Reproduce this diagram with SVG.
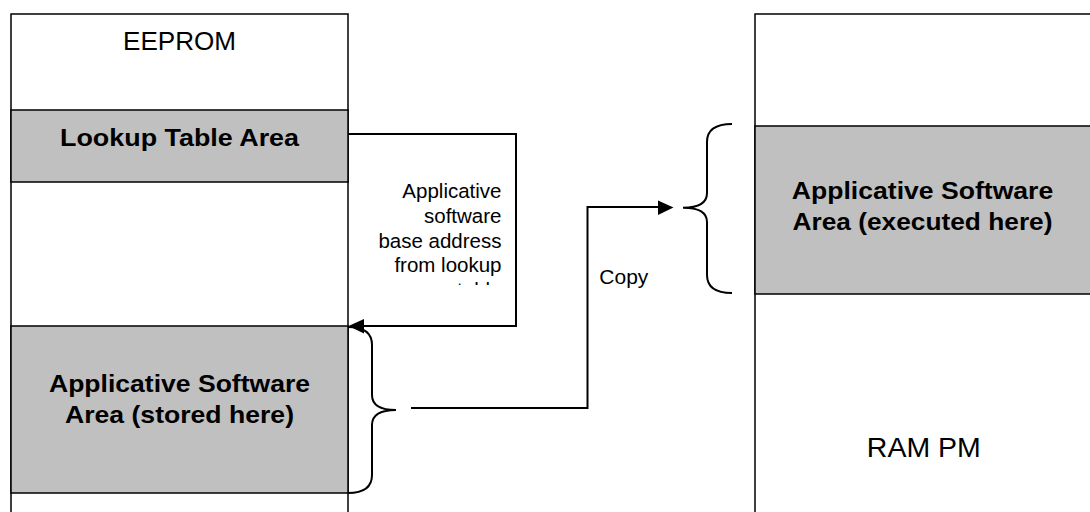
<svg xmlns="http://www.w3.org/2000/svg" width="1090" height="512" viewBox="0 0 1090 512">
<style>
.box{fill:#fff;stroke:#000;stroke-width:1.5}
.area{fill:#c0c0c0;stroke:#000;stroke-width:1.5}
.t{font-family:"Liberation Sans",Arial,sans-serif;fill:#000}
.b{font-weight:bold}
.ln{fill:none;stroke:#000;stroke-width:2}
.n{font-size:20.5px;text-anchor:end}
</style>
<defs>
<clipPath id="clipNote"><rect x="360" y="170" width="150" height="115"/></clipPath>
</defs>
<g id="eeprom">
<rect class="box" x="11" y="14" width="337" height="510"/>
<text class="t" x="179.5" y="49.5" font-size="25" text-anchor="middle" textLength="113" lengthAdjust="spacingAndGlyphs">EEPROM</text>
</g>
<g id="lookup">
<rect class="area" x="11" y="110" width="337" height="72"/>
<text class="t b" x="179.5" y="145.7" font-size="24.5" text-anchor="middle" textLength="239" lengthAdjust="spacingAndGlyphs">Lookup Table Area</text>
</g>
<g id="stored">
<rect class="area" x="11" y="326" width="337" height="167"/>
<text class="t b" x="179.5" y="391.7" font-size="24.5" text-anchor="middle" textLength="261" lengthAdjust="spacingAndGlyphs">Applicative Software</text>
<text class="t b" x="179.5" y="423.3" font-size="24.5" text-anchor="middle" textLength="229" lengthAdjust="spacingAndGlyphs">Area (stored here)</text>
</g>
<g id="rampm">
<rect class="box" x="755" y="14" width="337" height="510"/>
<text class="t" x="923.8" y="456.7" font-size="28" text-anchor="middle" textLength="114" lengthAdjust="spacingAndGlyphs">RAM PM</text>
</g>
<g id="executed">
<rect class="area" x="755" y="126" width="337" height="168"/>
<text class="t b" x="922.5" y="199.3" font-size="24.5" text-anchor="middle" textLength="261.5" lengthAdjust="spacingAndGlyphs">Applicative Software</text>
<text class="t b" x="922.5" y="230" font-size="24.5" text-anchor="middle" textLength="260" lengthAdjust="spacingAndGlyphs">Area (executed here)</text>
</g>
<g id="note">
<g clip-path="url(#clipNote)">
<text class="t n" x="501.5" y="198.3">Applicative</text>
<text class="t n" x="501.5" y="222.8">software</text>
<text class="t n" x="501.5" y="247.5">base address</text>
<text class="t n" x="501.5" y="272">from lookup</text>
<text class="t n" x="501.5" y="296.5">table</text>
</g>
</g>
<g id="copy-label">
<text class="t" x="599.3" y="284.3" font-size="20.5" textLength="49" lengthAdjust="spacingAndGlyphs">Copy</text>
</g>
<g id="connectors">
<polyline class="ln" points="348,134 516,134 516,326 362,326"/>
<polygon points="348.5,326 364,319 364,333.5" fill="#000"/>
<path class="ln" d="M348,327 Q372,327 372,345 L372,395 Q372,410 396,410 Q372,410 372,425 L372,475 Q372,493 348,493"/>
<polyline class="ln" points="411,408 587.5,408 587.5,207 660,207"/>
<polygon points="673.5,207.5 658,200.5 658,215" fill="#000"/>
<path class="ln" d="M732,124 Q707,124 707,142 L707,193 Q707,207.7 683,207.7 Q707,207.7 707,222 L707,275 Q707,293 732,293"/>
</g>
</svg>
